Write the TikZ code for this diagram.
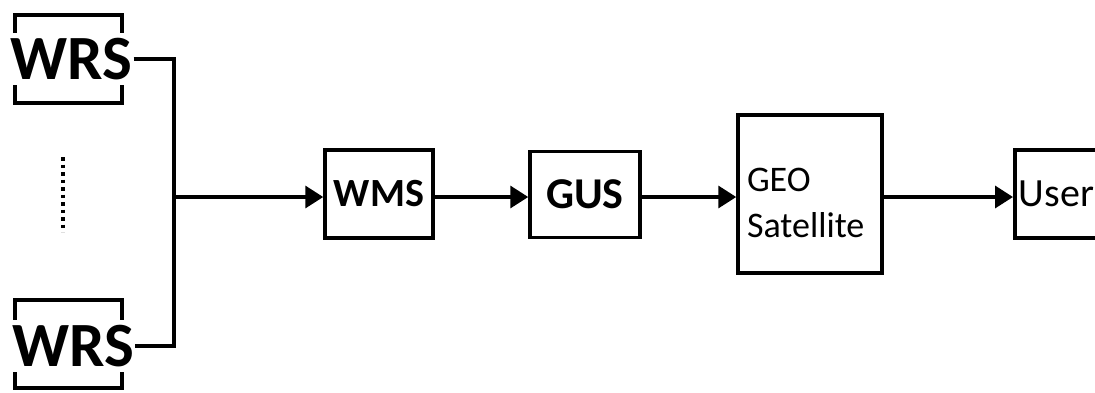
\documentclass[tikz,border=0pt]{standalone}
\usepackage{fontspec}
\setmainfont{Carlito}
\usetikzlibrary{arrows.meta}

\tikzset{
  every picture/.style={x=1pt,y=-1pt},
  frame/.style={draw=black, line width=3.5pt, fill=white, inner sep=0pt},
  wrsbox/.style={frame, minimum width=107pt, minimum height=88pt},
  wrstext/.style={fill=white, inner xsep=1pt, inner ysep=0pt,
    font=\fontsize{63}{66}\selectfont\bfseries,
    text height=40pt, text depth=0pt, minimum height=52pt},
  link/.style={line width=3.5pt},
  flow/.style={link, -{Triangle[length=18pt,width=22pt]}}
}

\begin{document}
\begin{tikzpicture}
  \useasboundingbox (0,0) rectangle (1095,392);

  % reference stations: frame first, label over its sides
  \node[wrsbox] (wrsA) at (68.5,59) {};
  \node[wrstext] (wrsAt) at (71.5,59) {WRS};
  \node[wrsbox] (wrsB) at (68.5,344) {};
  \node[wrstext] (wrsBt) at (73,346) {WRS};

  % the stations not shown
  \draw[line width=3.5pt, dash pattern=on 3.5pt off 4pt] (63,157) -- (63,232);

  \coordinate (j) at (174,197);

  % processing chain
  \node[frame, minimum width=108pt, minimum height=88pt,
        font=\fontsize{40}{42}\selectfont\bfseries] (wms) at (379,194) {WMS};
  \node[frame, minimum width=110pt, minimum height=86pt,
        font=\fontsize{44}{46}\selectfont\bfseries] (gus) at (585,194.5) {GUS};
  \node[frame, minimum width=144pt, minimum height=158pt,
        text width=126pt, align=left, inner xsep=9pt,
        text height=0pt, text depth=0pt,
        font=\fontsize{36}{46}\selectfont] (geo) at (810,194)
        {\raisebox{-43pt}[0pt][0pt]{\begin{tabular}[b]{@{}l@{}}GEO\\Satellite\end{tabular}}};
  \node[frame, anchor=west, minimum width=110pt, minimum height=88pt,
        text width=102pt, align=left, inner xsep=4pt,
        font=\fontsize{40}{42}\selectfont] (user) at (1013,194) {User};

  % connectors
  \draw[link] (wrsAt.east) -| (j);
  \draw[link] (wrsBt.east) -| (j);
  \draw[flow] (j) -- (j -| wms.west);
  \draw[flow] (wms.east |- j) -- (j -| gus.west);
  \draw[flow] (gus.east |- j) -- (j -| geo.west);
  \draw[flow] (geo.east |- j) -- (j -| user.west);
\end{tikzpicture}
\end{document}
